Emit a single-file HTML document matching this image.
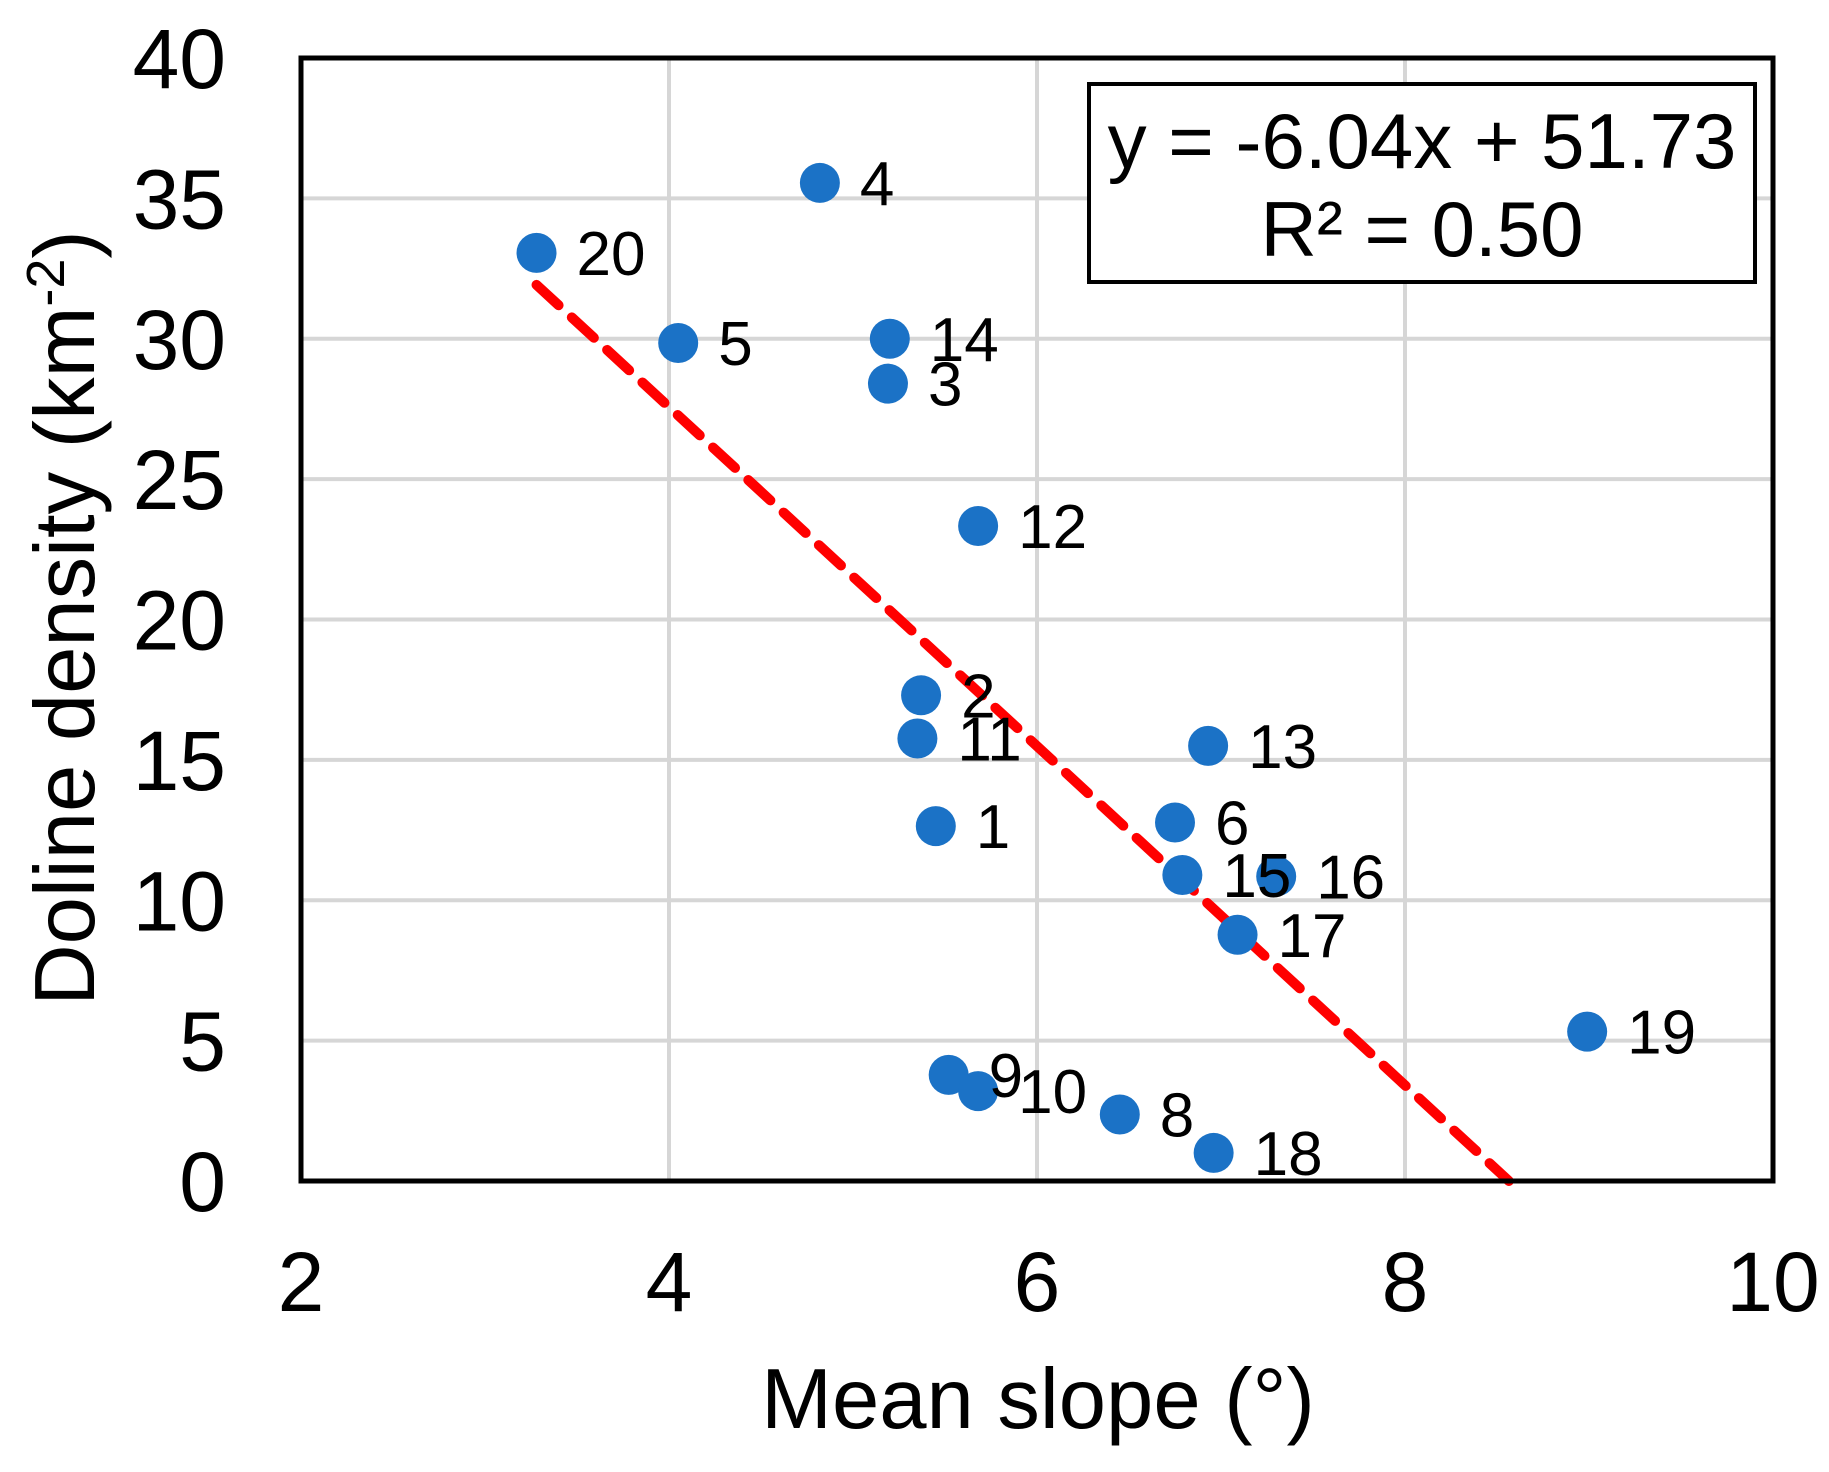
<!DOCTYPE html>
<html><head><meta charset="utf-8"><style>
html,body{margin:0;padding:0;background:#fff}
svg{display:block}
text{font-family:"Liberation Sans",Arial,sans-serif;fill:#000}
</style></head><body>
<svg id="chart" width="1829" height="1472">
<g id="grid"></g>
<g id="trend"></g>
<g id="points"></g>
<g id="labels"></g>
<rect x="301" y="58" width="1472" height="1123" fill="none" stroke="#000" stroke-width="5"/>
<g id="axes"></g>
<text x="1038" y="1428" font-size="85" text-anchor="middle">Mean slope (°)</text>
<text transform="translate(94,618) rotate(-90)" font-size="85" text-anchor="middle">Doline density (km<tspan baseline-shift="super" font-size="54">-2</tspan>)</text>
<g>
<rect x="1089" y="84" width="666" height="198" fill="#fff" stroke="#000" stroke-width="4"/>
<text x="1422" y="168" font-size="78" text-anchor="middle">y = -6.04x + 51.73</text>
<text x="1422" y="256" font-size="78" text-anchor="middle">R² = 0.50</text>
</g>
</svg>
<script>
const ids=["1","2","3","4","5","6","8","9","10","11","12","13","14","15","16","17","18","19","20"];
const xs=[5.45,5.37,5.19,4.82,4.05,6.75,6.45,5.52,5.68,5.35,5.68,6.93,5.20,6.79,7.30,7.09,6.96,8.99,3.28];
const ys=[12.64,17.3,28.4,35.55,29.85,12.77,2.37,3.78,3.2,15.76,23.33,15.5,30.0,10.9,10.85,8.77,1.0,5.32,33.06];
const xTicks=[2,4,6,8,10];
const yTicks=[0,5,10,15,20,25,30,35,40];
const slope=-6.04, intercept=51.73;
const X0=301,X1=1773,Y0=1181,Y1=58;
const sx=v=>X0+(v-2)/8*(X1-X0);
const sy=v=>Y0-(v/40)*(Y0-Y1);
const NS="http://www.w3.org/2000/svg";
function mk(tag,attrs,parent){const e=document.createElementNS(NS,tag);for(const k in attrs)e.setAttribute(k,attrs[k]);parent.appendChild(e);return e;}
const grid=document.getElementById('grid'),axes=document.getElementById('axes');
xTicks.forEach(t=>{
 const l=mk('line',{x1:sx(t),x2:sx(t),y1:Y1,y2:Y0,stroke:'#d6d6d6','stroke-width':4},grid);
 
 
 const tx=mk('text',{x:sx(t),y:1311,'font-size':84,'text-anchor':'middle'},axes);
 tx.textContent=t;
 
 
});
yTicks.forEach(t=>{
 const l=mk('line',{x1:X0,x2:X1,y1:sy(t),y2:sy(t),stroke:'#d6d6d6','stroke-width':4},grid);
 
 
 const tx=mk('text',{x:226,y:sy(t)+30,'font-size':84,'text-anchor':'end'},axes);
 tx.textContent=t;
 
 
});
const xs0=Math.min(...xs), xe=-intercept/slope;
const tl=mk('line',{x1:sx(xs0),y1:sy(slope*xs0+intercept),x2:sx(xe),y2:sy(0),stroke:'#ff0000','stroke-width':10,'stroke-dasharray':'30 18','stroke-linecap':'round'},document.getElementById('trend'));


const pg=document.getElementById('points'),lg=document.getElementById('labels');
ids.forEach((id,i)=>{
 const c=mk('circle',{cx:sx(xs[i]),cy:sy(ys[i]),r:20,fill:'#1b72c6'},pg);
 
 
 const t=mk('text',{x:sx(xs[i])+40,y:sy(ys[i])+22,'font-size':62},lg);
 t.textContent=id;
 
 
});
</script>
</body></html>
